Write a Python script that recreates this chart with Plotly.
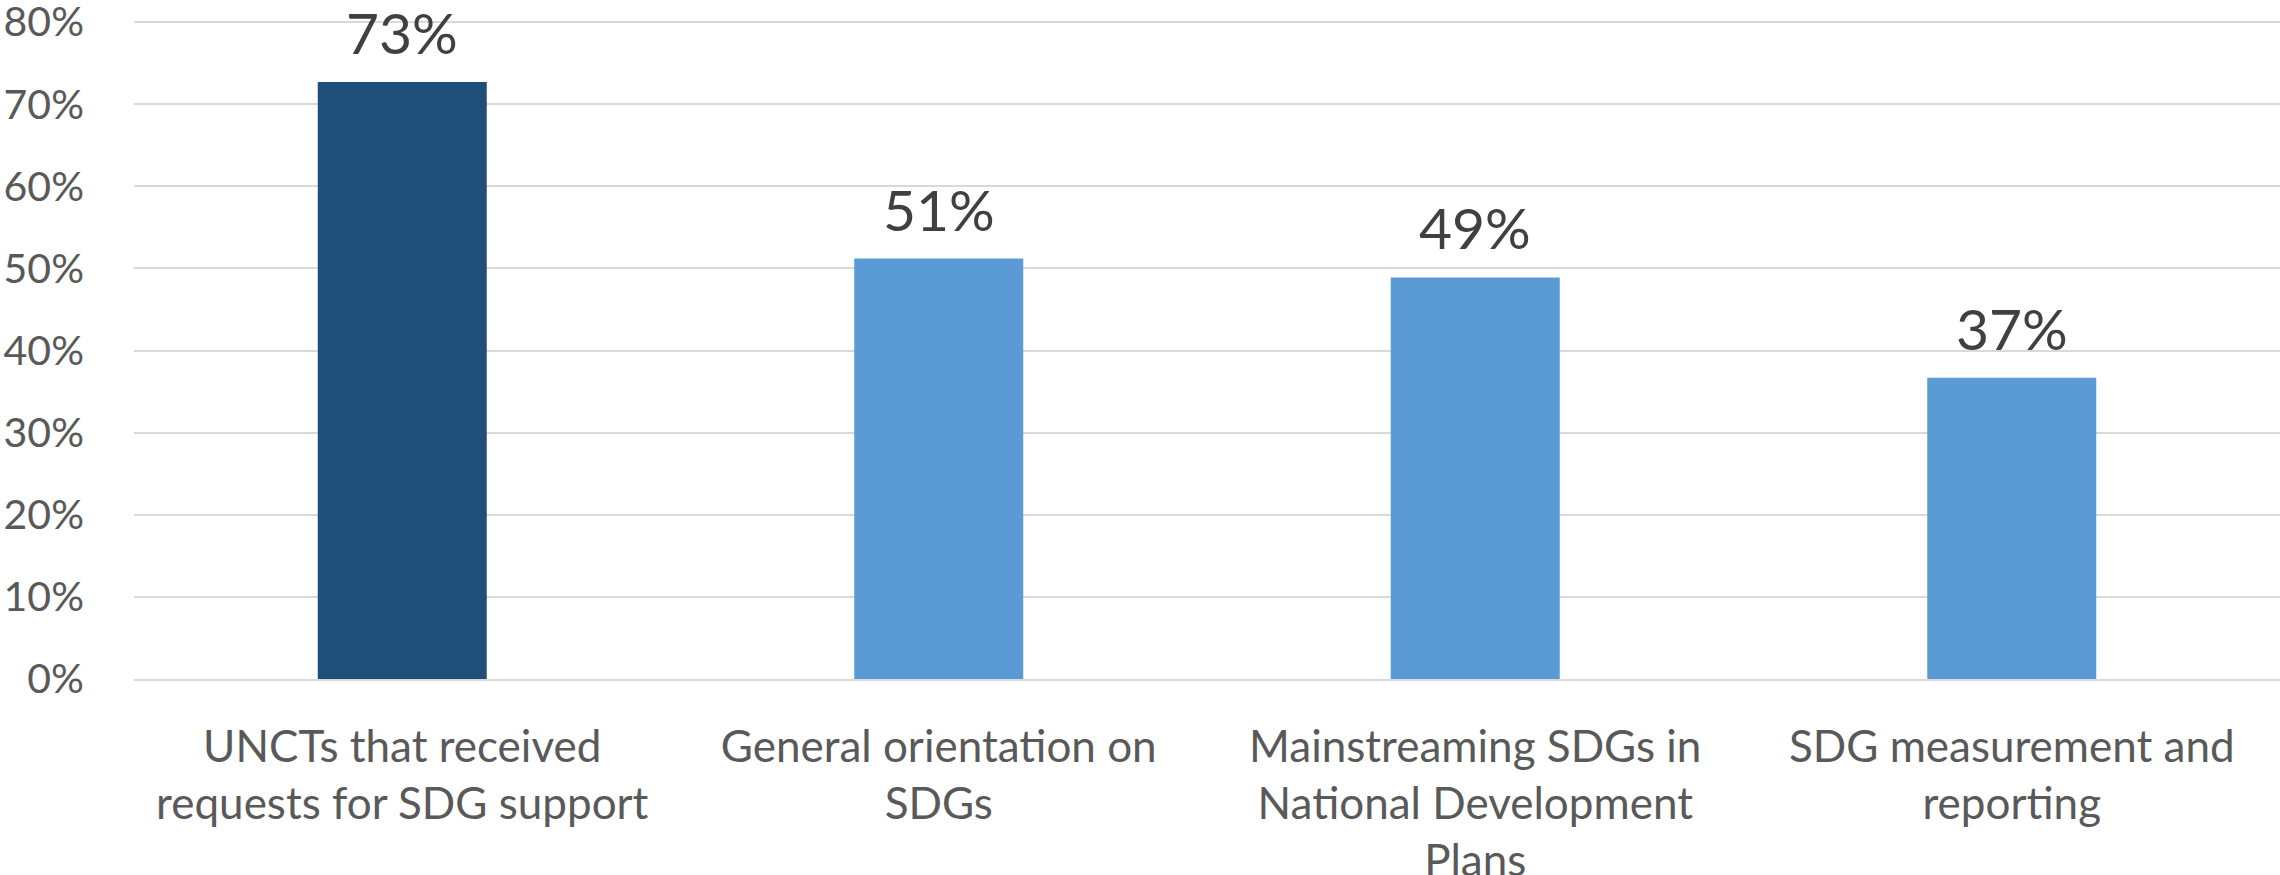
import plotly.graph_objects as go

categories = [
    "UNCTs that received<br>requests for SDG support",
    "General orientation on<br>SDGs",
    "Mainstreaming SDGs in<br>National Development<br>Plans",
    "SDG measurement and<br>reporting",
]
values = [0.727, 0.512, 0.489, 0.367]
labels = ["73%", "51%", "49%", "37%"]
colors = ["#1F4E79", "#5B9BD5", "#5B9BD5", "#5B9BD5"]
tick_vals = [0, 0.1, 0.2, 0.3, 0.4, 0.5, 0.6, 0.7, 0.8]
tick_text = ["0%", "10%", "20%", "30%", "40%", "50%", "60%", "70%", "80%"]

FONT = "Lato, 'Open Sans', sans-serif"

fig = go.Figure(
    go.Bar(
        x=categories,
        y=values,
        marker=dict(color=colors, line=dict(width=0)),
        cliponaxis=False,
        width=0.315,
    )
)

for cat, val, lab in zip(categories, values, labels):
    fig.add_annotation(
        x=cat, y=val, text=lab, showarrow=False,
        xanchor="center", yanchor="bottom", yshift=14,
        font=dict(size=57, color="#404040", family=FONT),
    )

fig.update_layout(
    width=2280,
    height=875,
    margin=dict(l=134, r=0, t=18, b=196, autoexpand=False),
    plot_bgcolor="white",
    paper_bgcolor="white",
    showlegend=False,
    font=dict(family=FONT, color="#595959"),
)
fig.update_yaxes(
    range=[0, 0.805],
    tickvals=tick_vals,
    ticktext=tick_text,
    showgrid=True,
    gridcolor="#D9D9D9",
    gridwidth=2,
    zeroline=False,
    showline=False,
    automargin=False,
    tickfont=dict(size=41, color="#595959", family=FONT),
    ticklabelstandoff=49,
    ticklabeloverflow="allow",
)
fig.update_xaxes(
    showline=True,
    linecolor="#D9D9D9",
    linewidth=2,
    automargin=False,
    tickfont=dict(size=44, color="#595959", family=FONT),
    ticklabelstandoff=28,
    tickangle=0,
)

fig.write_html(
    "out.html",
    config={"displayModeBar": False},
    post_script="document.body.style.margin='0';",
)
